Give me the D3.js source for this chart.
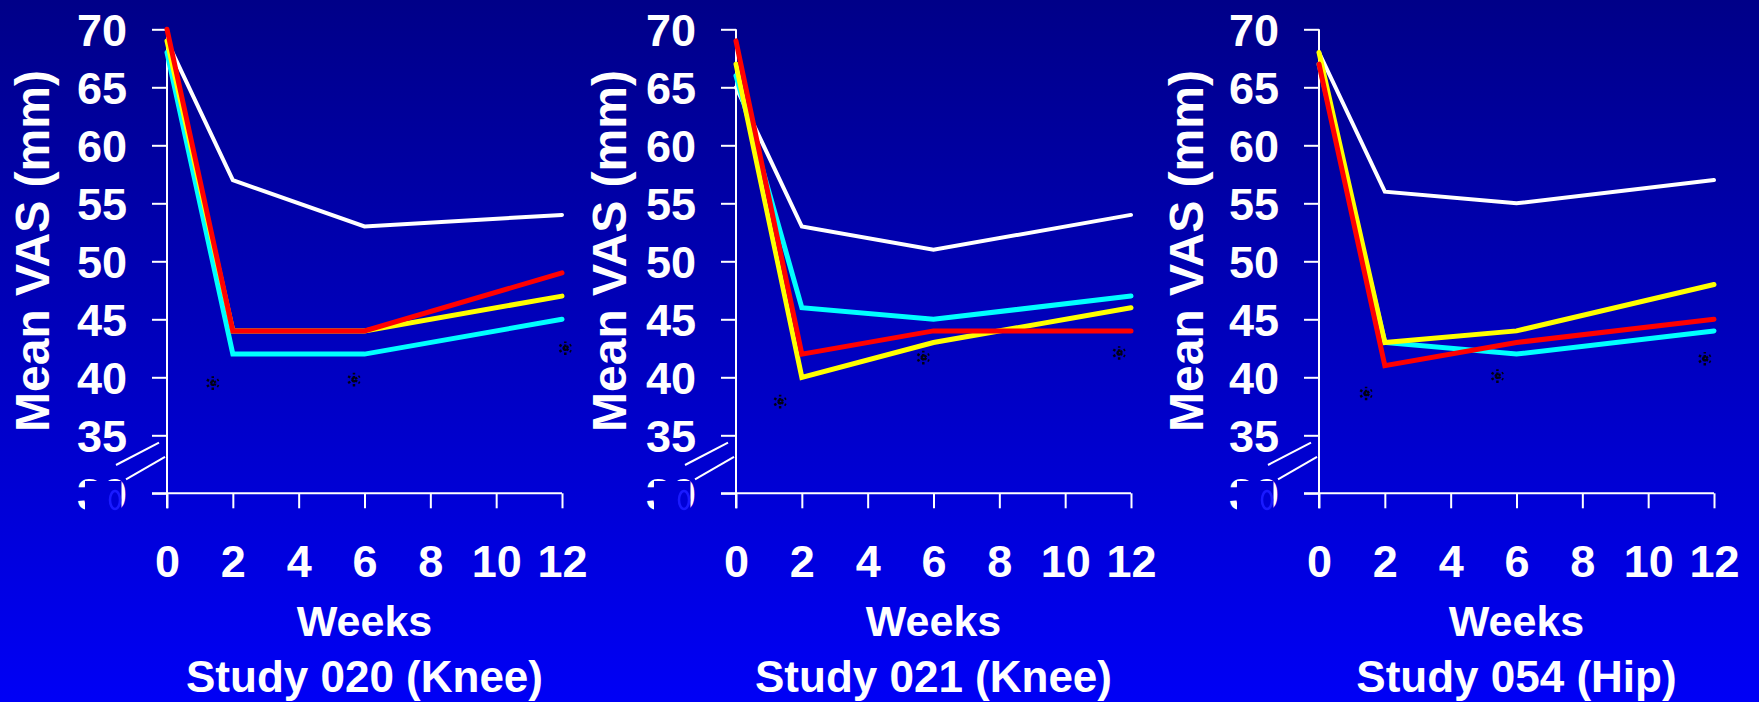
<!DOCTYPE html>
<html>
<head>
<meta charset="utf-8">
<script src="https://cdn.jsdelivr.net/npm/d3@7/dist/d3.min.js"></script>
<style>
  html, body { margin: 0; padding: 0; background: #0000c0; }
  svg { display: block; }
  text { font-family: "Liberation Sans", Arial, Helvetica, sans-serif; font-weight: bold; fill: #ffffff; }
</style>
</head>
<body>
<svg id="chart" width="1759" height="702"></svg>
<script>
// Weeks at which mean VAS pain was measured
const weeks = [0, 2, 6, 12];
const xTicks = [0, 2, 4, 6, 8, 10, 12];
const yTicks = [30, 35, 40, 45, 50, 55, 60, 65, 70];

const studyTitles = ["Study 020 (Knee)", "Study 021 (Knee)", "Study 054 (Hip)"];
const seriesColors = ["#ffffff", "#00ffff", "#ffff00", "#ff0000"];

// Mean VAS (mm) per treatment arm, one array per study
const study020 = {
  white:  [69, 57, 53, 54],
  cyan:   [68, 42, 42, 45],
  yellow: [69, 44, 44, 47],
  red:    [70, 44, 44, 49]
};
const study021 = {
  white:  [65, 53, 51, 54],
  cyan:   [66, 46, 45, 47],
  yellow: [67, 40, 43, 46],
  red:    [69, 42, 44, 44]
};
const study054 = {
  white:  [68, 56, 55, 57],
  cyan:   [67, 43, 42, 44],
  yellow: [68, 43, 44, 48],
  red:    [67, 41, 43, 45]
};

// Significance markers [week, VAS]
const stars020 = [[1.39, 39.5], [5.68, 39.8], [12.1, 42.5]];
const stars021 = [[1.34, 37.9], [5.69, 41.7], [11.64, 42.1]];
const stars054 = [[1.43, 38.6], [5.42, 40.1], [11.72, 41.6]];

const studies = [study020, study021, study054];
const starSets = [stars020, stars021, stars054];
const seriesKeys = ["white", "cyan", "yellow", "red"];

// Panel layout: left edge of plot area and y-title baseline
const panels = [
  { left: 167, titleX: 49 },
  { left: 736, titleX: 626 },
  { left: 1319, titleX: 1203 }
];
const plotW = 395, plotTop = 29.3, plotBottom = 493.3;

const svg = d3.select("#chart");
const defs = svg.append("defs");
const grad = defs.append("linearGradient")
  .attr("id", "bg").attr("gradientUnits", "userSpaceOnUse")
  .attr("x1", 0).attr("y1", 0).attr("x2", 0).attr("y2", 702);
grad.append("stop").attr("offset", "0%").attr("stop-color", "#000088");
grad.append("stop").attr("offset", "100%").attr("stop-color", "#0000f6");

svg.append("rect").attr("width", 1759).attr("height", 702).attr("fill", "url(#bg)");

const y = d3.scaleLinear().domain([30, 70]).range([plotBottom, plotTop]);

panels.forEach((p, i) => {
  const x = d3.scaleLinear().domain([0, 12]).range([p.left, p.left + plotW]);
  const g = svg.append("g");

  // y axis
  const yAxis = g.append("g")
    .attr("transform", `translate(${p.left},0)`)
    .call(d3.axisLeft(y).tickValues(yTicks).tickSize(15).tickPadding(25));
  yAxis.select(".domain").remove();
  yAxis.append("line").attr("x1", 0).attr("x2", 0).attr("y1", plotTop).attr("y2", plotBottom + 15)
    .attr("stroke", "#fff").attr("stroke-width", 2);
  yAxis.selectAll(".tick line").attr("stroke", "#fff").attr("stroke-width", 2);
  yAxis.selectAll(".tick text")
    .attr("fill", "#fff").style("font-size", "45px").attr("dy", "0.36em");

  // mask partially covering the bottom "30" label, with a faint ring behind it
  g.append("rect")
    .attr("x", p.left - 82).attr("y", 481).attr("width", 36.5).attr("height", 45)
    .attr("fill", "url(#bg)");
  g.append("ellipse")
    .attr("cx", p.left - 52).attr("cy", 500).attr("rx", 5).attr("ry", 9)
    .attr("fill", "none").attr("stroke", "#1a1aff").attr("stroke-width", 2.5);

  // x axis
  const xAxis = g.append("g")
    .attr("transform", `translate(0,${plotBottom})`)
    .call(d3.axisBottom(x).tickValues(xTicks).tickSize(15).tickPadding(37));
  xAxis.select(".domain").remove();
  xAxis.append("line").attr("x1", p.left - 15).attr("x2", p.left + plotW).attr("y1", 0).attr("y2", 0)
    .attr("stroke", "#fff").attr("stroke-width", 2);
  xAxis.selectAll(".tick line").attr("stroke", "#fff").attr("stroke-width", 2);
  xAxis.selectAll(".tick text")
    .attr("fill", "#fff").style("font-size", "45px").attr("dy", "0.71em");

  // axis break marks
  [[32.44, 34.36, 51, 8], [31.2, 33.15, 41, 2]].forEach(([v1, v2, dx1, dx2]) => {
    g.append("line")
      .attr("x1", p.left - dx1).attr("y1", y(v1))
      .attr("x2", p.left - dx2).attr("y2", y(v2))
      .attr("stroke", "#fff").attr("stroke-width", 2);
  });

  // series lines
  const line = d3.line().x((d, j) => x(weeks[j])).y(d => y(d));
  seriesKeys.forEach((k, si) => {
    g.append("path")
      .datum(studies[i][k])
      .attr("d", line)
      .attr("fill", "none")
      .attr("stroke", seriesColors[si])
      .attr("stroke-width", k === "white" ? 4 : 5)
      .attr("stroke-linejoin", "miter")
      .attr("stroke-linecap", "round");
  });

  // significance asterisks
  const star = d3.symbol(d3.symbolAsterisk, 130);
  g.selectAll(".star").data(starSets[i]).join("path")
    .attr("class", "star")
    .attr("transform", d => `translate(${x(d[0])},${y(d[1])})`)
    .attr("d", star)
    .attr("fill", "none")
    .attr("stroke", "#000014")
    .attr("stroke-width", 2.5)
    .attr("stroke-dasharray", "2.5,1.5");

  // axis titles
  g.append("text")
    .attr("transform", `translate(${p.titleX},251) rotate(-90)`)
    .attr("text-anchor", "middle")
    .style("font-size", "48px")
    .text("Mean VAS (mm)");

  g.append("text")
    .attr("x", p.left + plotW / 2).attr("y", 636)
    .attr("text-anchor", "middle")
    .style("font-size", "43px")
    .text("Weeks");

  g.append("text")
    .attr("x", p.left + plotW / 2).attr("y", 692)
    .attr("text-anchor", "middle")
    .style("font-size", "44px")
    .text(studyTitles[i]);
});
</script>
</body>
</html>
